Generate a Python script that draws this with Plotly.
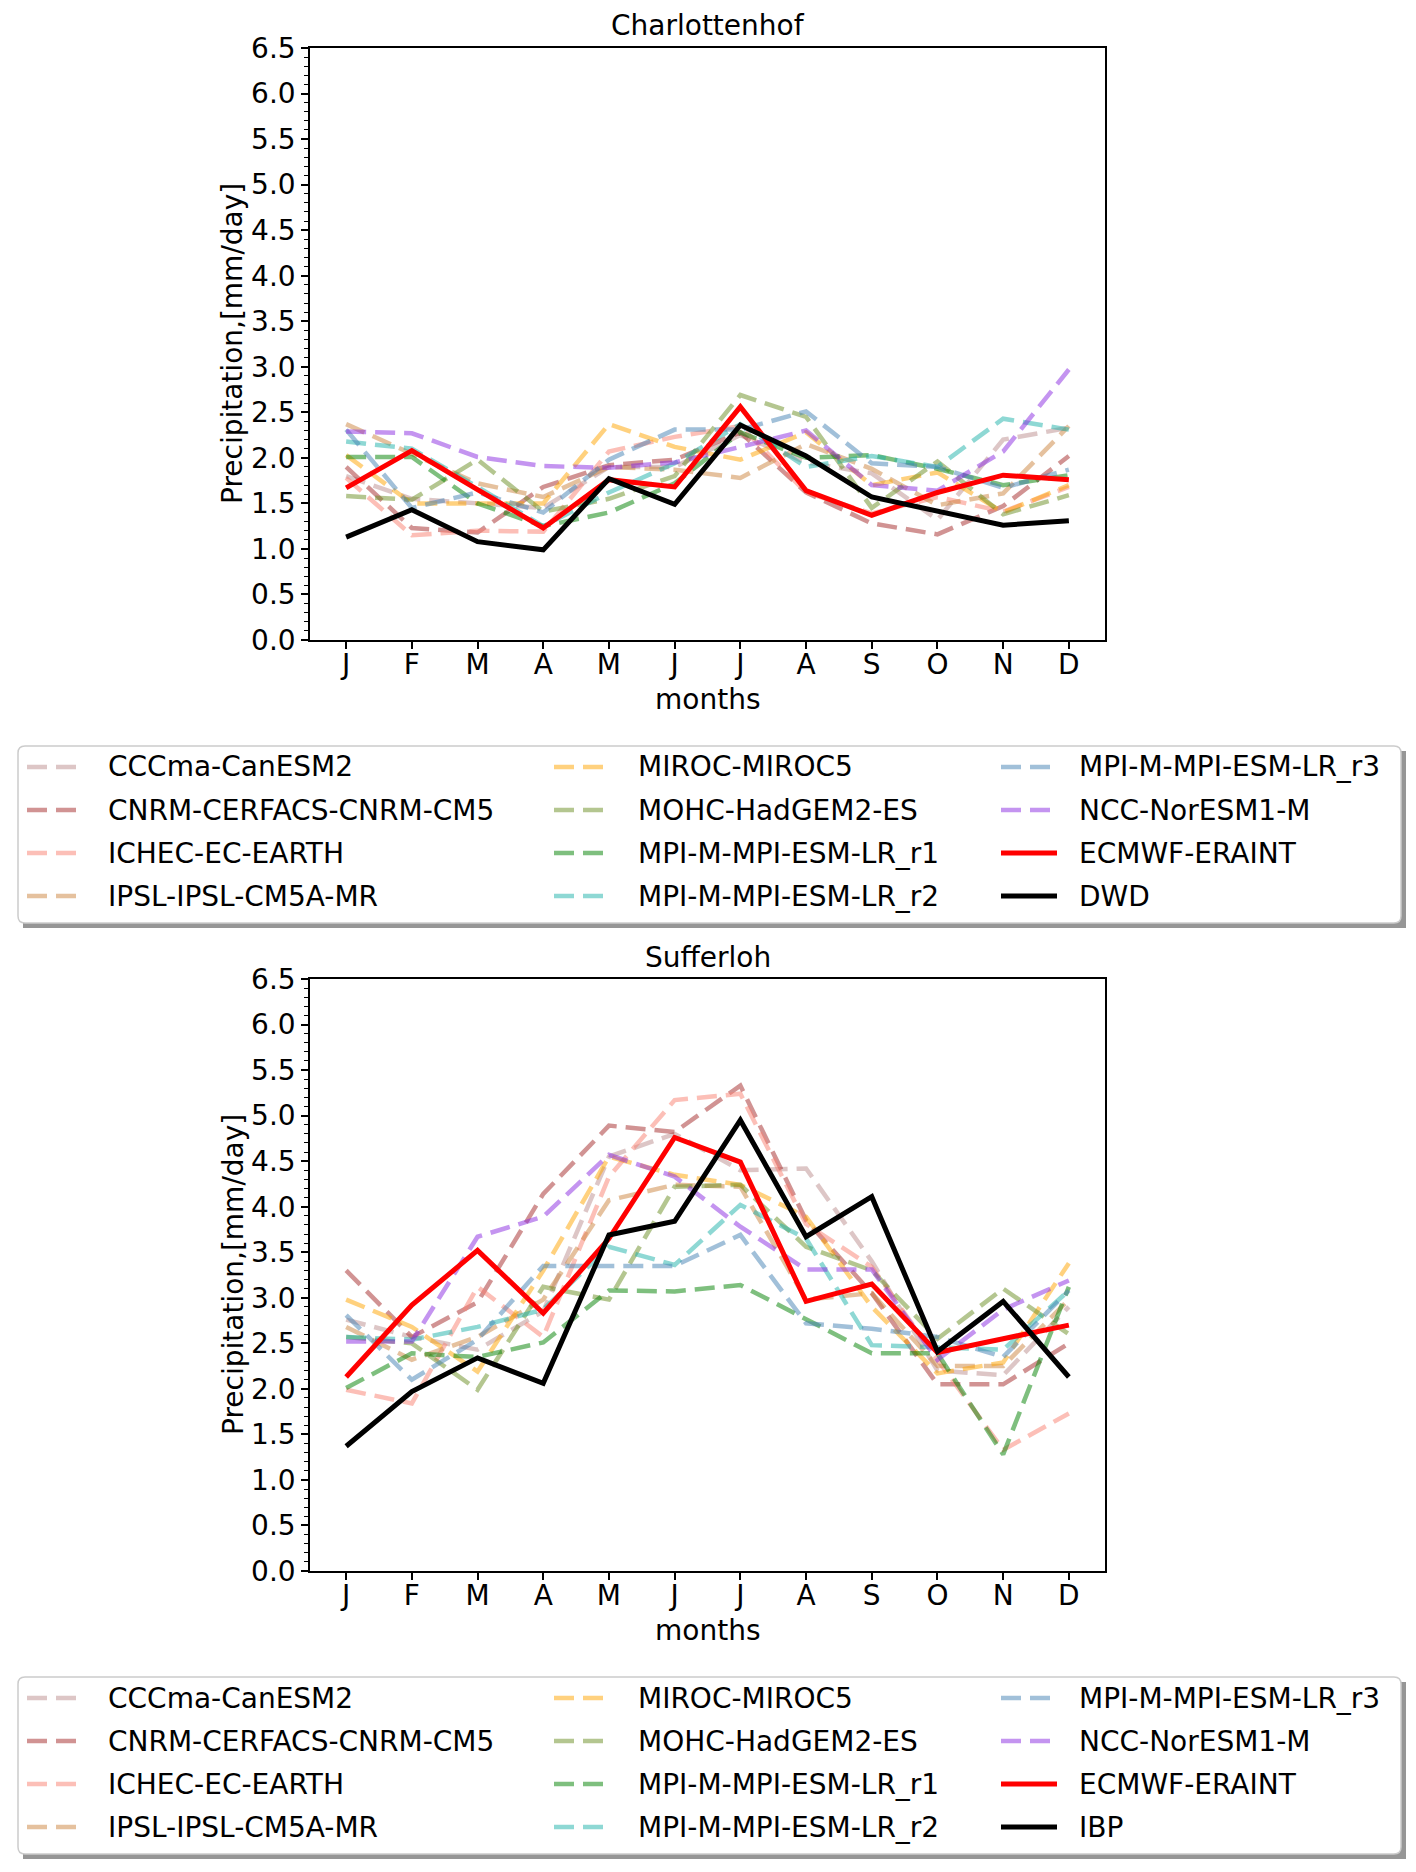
import plotly.graph_objects as go

# ---------------- data ----------------
months = ["J", "F", "M", "A", "M", "J", "J", "A", "S", "O", "N", "D"]
model_names = ["CCCma-CanESM2", "CNRM-CERFACS-CNRM-CM5", "ICHEC-EC-EARTH", "IPSL-IPSL-CM5A-MR",
               "MIROC-MIROC5", "MOHC-HadGEM2-ES", "MPI-M-MPI-ESM-LR_r1", "MPI-M-MPI-ESM-LR_r2",
               "MPI-M-MPI-ESM-LR_r3", "NCC-NorESM1-M"]
model_colors = ["rosybrown", "brown", "salmon", "peru", "orange", "olivedrab", "green",
                "lightseagreen", "steelblue", "blueviolet"]

# Charlottenhof
ch_cccma = [1.80, 1.55, 1.50, 1.45, 1.90, 1.90, 2.25, 1.95, 1.83, 1.32, 2.20, 2.33]
ch_cnrm = [1.90, 1.23, 1.18, 1.68, 1.92, 1.98, 2.28, 1.62, 1.28, 1.16, 1.47, 2.02]
ch_ichec = [1.78, 1.15, 1.20, 1.19, 2.07, 2.23, 2.35, 1.62, 1.39, 1.57, 1.41, 1.68]
ch_ipsl = [2.37, 2.05, 1.72, 1.57, 1.90, 1.87, 1.78, 2.15, 1.88, 1.48, 1.61, 2.35]
ch_miroc = [2.03, 1.50, 1.50, 1.50, 2.37, 2.12, 1.98, 2.28, 1.70, 1.84, 1.40, 1.70]
ch_mohc = [1.58, 1.54, 1.98, 1.41, 1.55, 1.80, 2.69, 2.45, 1.45, 1.96, 1.38, 1.59]
ch_mpi_r1 = [2.01, 2.01, 1.50, 1.25, 1.40, 1.72, 2.28, 2.00, 2.03, 1.88, 1.70, 1.81]
ch_mpi_r2 = [2.18, 2.10, 1.68, 1.25, 1.62, 1.94, 2.37, 1.90, 2.02, 1.90, 2.43, 2.31]
ch_mpi_r3 = [2.31, 1.45, 1.62, 1.40, 1.98, 2.31, 2.31, 2.51, 1.94, 1.90, 1.67, 1.87]
ch_ncc = [2.29, 2.27, 2.01, 1.91, 1.89, 1.95, 2.12, 2.30, 1.70, 1.64, 2.07, 2.97]
ch_ecmwf = [1.67, 2.08, 1.65, 1.23, 1.76, 1.68, 2.56, 1.64, 1.37, 1.62, 1.81, 1.76]
ch_obs = [1.13, 1.43, 1.08, 0.99, 1.77, 1.49, 2.36, 2.02, 1.57, 1.42, 1.26, 1.31]

# Sufferloh
su_cccma = [2.76, 2.57, 2.43, 2.85, 4.55, 4.80, 4.40, 4.42, 3.40, 2.20, 2.15, 2.90]
su_cnrm = [3.30, 2.57, 2.95, 4.14, 4.89, 4.82, 5.33, 3.85, 3.05, 2.05, 2.05, 2.50]
su_ichec = [1.99, 1.84, 3.12, 2.57, 4.33, 5.17, 5.24, 3.81, 3.34, 2.32, 1.33, 1.73]
su_ipsl = [2.68, 2.32, 2.57, 2.98, 4.07, 4.24, 4.22, 2.98, 3.05, 2.25, 2.25, 2.98]
su_miroc = [2.98, 2.68, 2.19, 3.30, 4.55, 4.35, 4.24, 3.89, 2.90, 2.17, 2.29, 3.38]
su_mohc = [2.57, 2.50, 1.99, 3.12, 2.98, 4.22, 4.24, 3.56, 3.30, 2.55, 3.10, 2.60]
su_mpi_r1 = [2.01, 2.39, 2.35, 2.51, 3.08, 3.07, 3.14, 2.77, 2.39, 2.39, 1.28, 3.12]
su_mpi_r2 = [2.57, 2.54, 2.68, 2.87, 3.56, 3.36, 4.02, 3.65, 2.48, 2.46, 2.43, 3.08]
su_mpi_r3 = [2.81, 2.10, 2.54, 3.35, 3.35, 3.35, 3.69, 2.72, 2.66, 2.57, 2.35, 3.08]
su_ncc = [2.52, 2.52, 3.67, 3.89, 4.57, 4.33, 3.78, 3.31, 3.31, 2.32, 2.87, 3.19]
su_ecmwf = [2.13, 2.92, 3.52, 2.83, 3.65, 4.76, 4.49, 2.96, 3.15, 2.40, 2.55, 2.70]
su_obs = [1.37, 1.97, 2.34, 2.06, 3.69, 3.84, 4.95, 3.67, 4.11, 2.41, 2.96, 2.13]

panels = [
    {"title": "Charlottenhof", "obs_name": "DWD",
     "models": [ch_cccma, ch_cnrm, ch_ichec, ch_ipsl, ch_miroc, ch_mohc,
                ch_mpi_r1, ch_mpi_r2, ch_mpi_r3, ch_ncc],
     "ecmwf": ch_ecmwf, "obs": ch_obs},
    {"title": "Sufferloh", "obs_name": "IBP",
     "models": [su_cccma, su_cnrm, su_ichec, su_ipsl, su_miroc, su_mohc,
                su_mpi_r1, su_mpi_r2, su_mpi_r3, su_ncc],
     "ecmwf": su_ecmwf, "obs": su_obs},
]

# ---------------- layout helpers ----------------
PAGE_MARGIN = 8            # default body margin of the html page
W, H = 1416 - 2 * PAGE_MARGIN, 1872 - 2 * PAGE_MARGIN
FONT = "DejaVu Sans"
FS = 28
DASH = "20px,9px"
ALPHA = 0.5


def px(x):
    # x given in page pixels
    return (x - PAGE_MARGIN) / W


def py(y):
    # y given in page pixels (top-down)
    return 1 - (y - PAGE_MARGIN) / H


xpos = list(range(len(months)))
fig = go.Figure()
shapes = []
annotations = []

AX_L, AX_R = 310, 1105
PANEL_OFF = 931

for p_i, panel in enumerate(panels):
    dy = p_i * PANEL_OFF
    xa = "x" if p_i == 0 else "x2"
    ya = "y" if p_i == 0 else "y2"
    for k, name in enumerate(model_names):
        fig.add_trace(go.Scatter(x=xpos, y=panel["models"][k], mode="lines", name=name,
                                 line=dict(color=model_colors[k], width=4.5, dash=DASH),
                                 opacity=ALPHA, showlegend=False, xaxis=xa, yaxis=ya))
    fig.add_trace(go.Scatter(x=xpos, y=panel["ecmwf"], mode="lines", name="ECMWF-ERAINT",
                             line=dict(color="red", width=5), showlegend=False, xaxis=xa, yaxis=ya))
    fig.add_trace(go.Scatter(x=xpos, y=panel["obs"], mode="lines", name=panel["obs_name"],
                             line=dict(color="black", width=5), showlegend=False, xaxis=xa, yaxis=ya))

    # titles
    annotations.append(dict(text=panel["title"], x=px((AX_L + AX_R) / 2), y=py(26 + dy),
                            xref="paper", yref="paper", showarrow=False,
                            xanchor="center", yanchor="middle", font=dict(size=FS)))
    annotations.append(dict(text="months", x=px((AX_L + AX_R) / 2), y=py(699 + dy),
                            xref="paper", yref="paper", showarrow=False,
                            xanchor="center", yanchor="middle", font=dict(size=FS)))
    annotations.append(dict(text="Precipitation,[mm/day]", x=px(233), y=py(344 + dy),
                            xref="paper", yref="paper", showarrow=False, textangle=-90,
                            xanchor="center", yanchor="middle", font=dict(size=FS)))

    # legend box with shadow
    bx0, bx1, by0, by1 = 18, 1401, 746 + dy, 923 + dy
    shapes.append(dict(type="rect", xref="paper", yref="paper",
                       x0=px(bx0 + 5), x1=px(bx1 + 5), y0=py(by1 + 5), y1=py(by0 + 5),
                       fillcolor="rgba(80,80,80,0.6)", line=dict(width=0), layer="above"))
    r = 7
    path = (f"M {px(bx0 + r)},{py(by0)} L {px(bx1 - r)},{py(by0)} "
            f"Q {px(bx1)},{py(by0)} {px(bx1)},{py(by0 + r)} "
            f"L {px(bx1)},{py(by1 - r)} Q {px(bx1)},{py(by1)} {px(bx1 - r)},{py(by1)} "
            f"L {px(bx0 + r)},{py(by1)} Q {px(bx0)},{py(by1)} {px(bx0)},{py(by1 - r)} "
            f"L {px(bx0)},{py(by0 + r)} Q {px(bx0)},{py(by0)} {px(bx0 + r)},{py(by0)} Z")
    shapes.append(dict(type="path", xref="paper", yref="paper", path=path,
                       fillcolor="white", line=dict(color="#cccccc", width=1.5), layer="above"))

    entries = [(model_names[k], model_colors[k], DASH, ALPHA) for k in range(len(model_names))]
    entries += [("ECMWF-ERAINT", "red", "solid", 1.0), (panel["obs_name"], "black", "solid", 1.0)]
    col_handle = [(27, 83), (554, 610), (1001, 1057)]
    col_text = [106, 636, 1077]
    for i, (name, col, dash, al) in enumerate(entries):
        c, rr = i // 4, i % 4
        yy = 767 + rr * 43 + dy
        h0, h1 = col_handle[c]
        shapes.append(dict(type="line", xref="paper", yref="paper",
                           x0=px(h0), x1=px(h1), y0=py(yy), y1=py(yy),
                           line=dict(color=col, width=4.5 if dash != "solid" else 5, dash=dash),
                           opacity=al, layer="above"))
        annotations.append(dict(text=name, x=px(col_text[c]), y=py(yy), xref="paper", yref="paper",
                                showarrow=False, xanchor="left", yanchor="middle",
                                font=dict(size=FS)))

axis_common = dict(showline=True, mirror=True, linecolor="black", linewidth=1.5,
                   ticks="outside", tickcolor="black", tickwidth=1.5, showgrid=False,
                   zeroline=False, automargin=False, tickfont=dict(size=FS, color="black"))
xaxis_cfg = dict(axis_common, range=[-0.55, 11.55], tickmode="array", tickvals=xpos,
                 ticktext=months, ticklen=7, ticklabelstandoff=-8)
yaxis_cfg = dict(axis_common, range=[0, 6.5], tick0=0, dtick=0.5, tickformat=".1f", ticklen=7,
                 minor=dict(dtick=0.1, ticklen=4, ticks="outside", tickcolor="black", tickwidth=1.2))

fig.update_layout(
    width=W, height=H,
    margin=dict(l=0, r=0, t=0, b=0, autoexpand=False),
    paper_bgcolor="white", plot_bgcolor="white",
    font=dict(family=FONT, size=FS, color="black"),
    showlegend=False,
    xaxis=dict(xaxis_cfg, domain=[px(AX_L), px(AX_R)], anchor="y"),
    yaxis=dict(yaxis_cfg, domain=[py(640), py(48)], anchor="x"),
    xaxis2=dict(xaxis_cfg, domain=[px(AX_L), px(AX_R)], anchor="y2"),
    yaxis2=dict(yaxis_cfg, domain=[py(640 + PANEL_OFF), py(48 + PANEL_OFF)], anchor="x2"),
    shapes=shapes,
    annotations=annotations,
)

fig.write_html("out.html")
